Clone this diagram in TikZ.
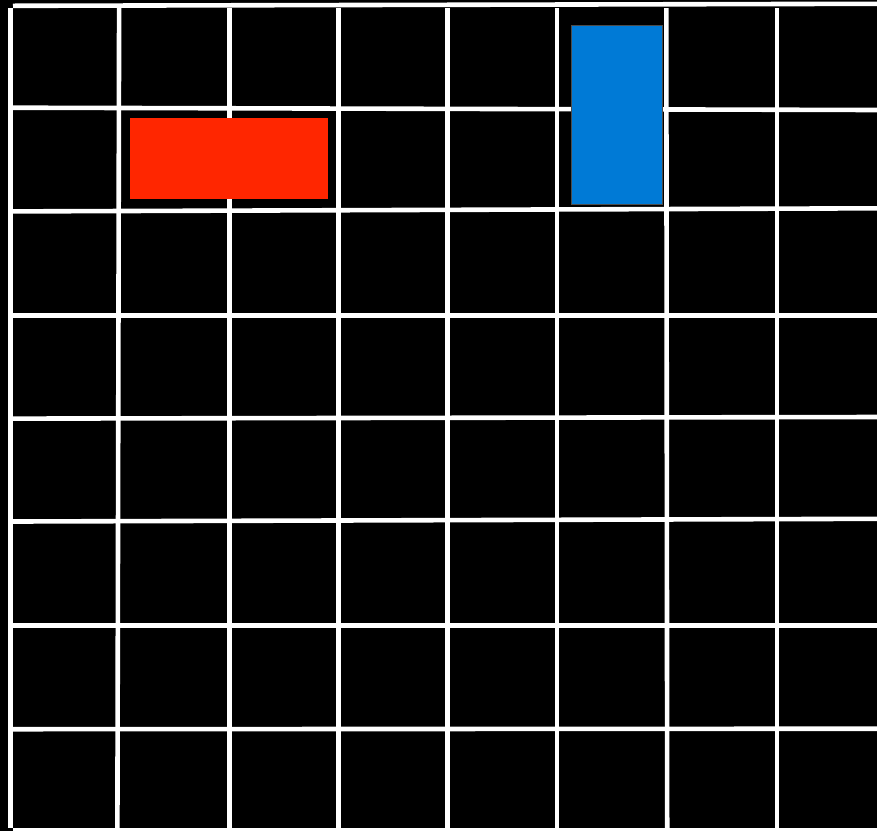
\documentclass[tikz,border=0pt]{standalone}
\definecolor{redbox}{RGB}{255,38,0}
\definecolor{bluebox}{RGB}{0,122,214}
\definecolor{lineedge}{RGB}{150,150,150}
\tikzset{
  gridline/.style={draw=white,line width=4.6pt,line cap=butt},
  redrect/.style={fill=redbox},
  bluerect/.style={fill=bluebox,draw=black!70,line width=0.6pt},
}
\begin{document}
\begin{tikzpicture}[x=1pt,y=-1pt]
\useasboundingbox (0,0) rectangle (877,831);
\fill[white] (0,0) rectangle (877,831);
\fill[black] (0,0) rectangle (877,828);
\fill[black] (0,828) rectangle (13,831);
% top line
\draw[gridline] (13,5.8) -- (877,3.8);
% left line
\draw[gridline] (10.5,8) -- (10.5,828);
% vertical lines
\foreach \xt/\xb in {119.1/117.4,229.3/229.3,338.4/338.4,447.4/447.4,557/557,666.3/667.2,776.8/776.8}
  \draw[gridline] (\xt,8) -- (\xb,828);
% horizontal lines
\foreach \yl/\yr in {107.7/110,211.4/208.3,315.3/315.3,418.6/417,521.5/518.8,625.3/625.3,729.2/728.7}
  \draw[gridline] (13,\yl) -- (877,\yr);
% rectangles
\fill[redrect] (130,118) rectangle (328,199);
\filldraw[bluerect] (571,25) rectangle (662,204);
\end{tikzpicture}
\end{document}
